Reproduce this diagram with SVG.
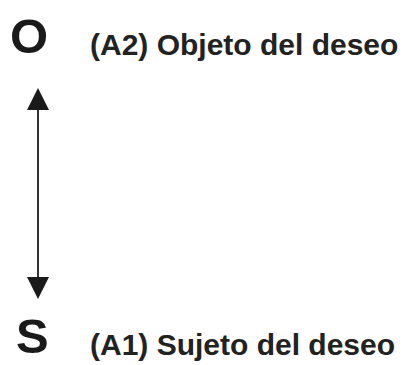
<svg xmlns="http://www.w3.org/2000/svg" width="410" height="365" viewBox="0 0 410 365">
<style>
.big{font-family:"Liberation Sans",Arial,sans-serif;font-weight:bold;font-size:49px;fill:#1a1a1a}
.lbl{font-family:"Liberation Sans",Arial,sans-serif;font-weight:bold;font-size:30px;fill:#222}
.conn{stroke:#333;stroke-width:2;fill:none}
</style>
<defs>
<marker id="ah" viewBox="0 0 22 22" refX="2" refY="11" markerWidth="22" markerHeight="22" markerUnits="userSpaceOnUse" orient="auto-start-reverse">
<path d="M0,0 L22,11 L0,22 Z" fill="#1a1a1a"/>
</marker>
</defs>
<g id="node-O">
<text class="big" x="10" y="53">O</text>
<text class="lbl" x="90" y="55">(A2) Objeto del deseo</text>
</g>
<g id="node-S">
<text class="big" x="16" y="353">S</text>
<text class="lbl" x="90" y="355">(A1) Sujeto del deseo</text>
</g>
<g id="connectors">
<line class="conn" x1="38" y1="108" x2="38" y2="279" marker-start="url(#ah)" marker-end="url(#ah)"/>
</g>
</svg>
